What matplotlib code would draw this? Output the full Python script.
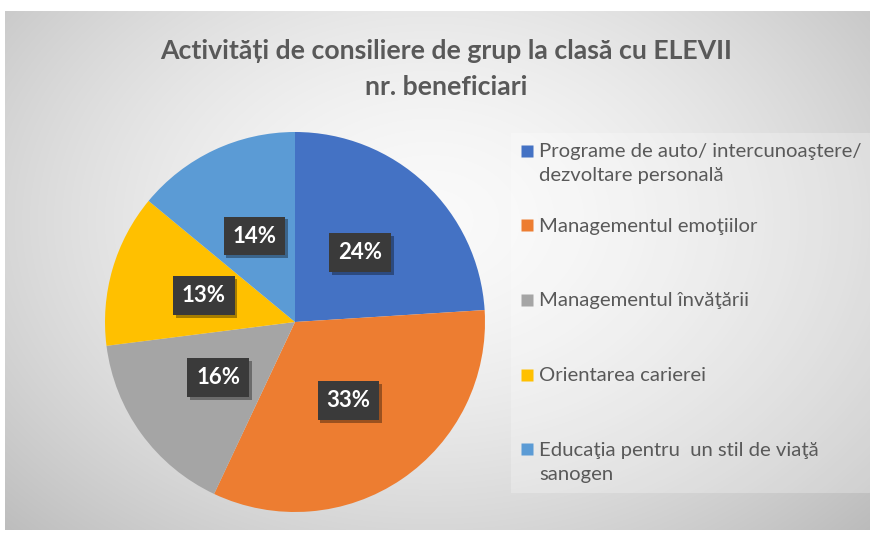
import numpy as np
import matplotlib
matplotlib.use("Agg")
import matplotlib.pyplot as plt
from matplotlib.lines import Line2D
import matplotlib.patheffects as pe

categories = [
    "Programe de auto/ intercunoaştere/\ndezvoltare personală",
    "Managementul emoţiilor\n",
    "Managementul învăţării\n",
    "Orientarea carierei\n",
    "Educaţia pentru  un stil de viaţă\nsanogen",
]
values = [24, 33, 16, 13, 14]
colors = ["#4472C4", "#ED7D31", "#A5A5A5", "#FFC000", "#5B9BD5"]
title = "Activități de consiliere de grup la clasă cu ELEVII\nnr. beneficiari"

plt.rcParams['font.family'] = ['Lato', 'DejaVu Sans']

W, H = 877, 533
fig = plt.figure(figsize=(W / 100, H / 100), dpi=100)
fig.patch.set_facecolor("white")

# background gradient panel
bx0, bx1, by0, by1 = 5, 870, 11, 530
bg = fig.add_axes([bx0 / W, 1 - by1 / H, (bx1 - bx0) / W, (by1 - by0) / H])
yy, xx = np.mgrid[by0:by1, bx0:bx1]
r = np.sqrt(((xx - 430) / 520.0) ** 2 + ((yy - 220) / 380.0) ** 2)
val = 0.98 - 0.19 * np.clip(r, 0, 1.3) ** 1.6
img = np.dstack([val, val, val])
bg.imshow(img, aspect="auto", extent=[0, 1, 0, 1], origin="upper")
bg.set_axis_off()

# pie
cx, cy, R = 295, 322, 190
ax = fig.add_axes([(cx - R) / W, 1 - (cy + R) / H, 2 * R / W, 2 * R / H])
wedges, texts, autotexts = ax.pie(
    values, colors=colors, startangle=90, counterclock=False,
    autopct=lambda p: f"{p:.0f}%", pctdistance=0.5,
    wedgeprops=dict(linewidth=0),
    textprops=dict(color="white", fontsize=16, fontweight="bold"),
)
ax.set_xlim(-1, 1)
ax.set_ylim(-1, 1)
ax.set_aspect("equal")
for t in autotexts:
    t.set_bbox(dict(boxstyle="square,pad=0.4", fc="#3a3a3a", ec="none"))
    t.get_bbox_patch().set_path_effects(
        [pe.withSimplePatchShadow(offset=(2, -2), shadow_rgbFace="black", alpha=0.35)])

# title
fig.text(446 / W, 1 - 69 / H, title, ha="center", va="center",
         fontsize=19.2, fontweight="bold", color="#595959", linespacing=1.6)

# legend
handles = [Line2D([], [], marker="s", linestyle="none", markersize=8.2,
                  markerfacecolor=w.get_facecolor(), markeredgecolor="none")
           for w in wedges]
leg = fig.legend(handles, categories, loc="upper left",
                 bbox_to_anchor=(511 / W, 1 - 133 / H),
                 frameon=True, fontsize=14.6, labelcolor="#595959",
                 handlelength=0.6, handleheight=0.86, handletextpad=0.3,
                 labelspacing=1.66, borderaxespad=0, borderpad=0.5)
for t in leg.get_texts():
    t.set_linespacing(1.5)
leg.get_frame().set_facecolor("white")
leg.get_frame().set_alpha(0.25)
leg.get_frame().set_edgecolor("none")
leg.get_frame().set_boxstyle("square", pad=0)
for col in leg._legend_handle_box.get_children():
    for row in col.get_children():
        row.align = "top"

fig.savefig("out.png", dpi=100, facecolor="white")
